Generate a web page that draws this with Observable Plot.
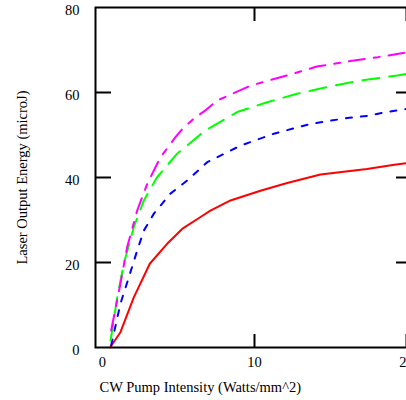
<!DOCTYPE html>
<html><head><meta charset="utf-8">
<script src="https://cdn.jsdelivr.net/npm/d3@7"></script>
<script src="https://cdn.jsdelivr.net/npm/@observablehq/plot@0.6"></script>
<style>html,body{margin:0;padding:0;overflow:hidden;background:#fff}
#chart svg{max-width:none !important;font-family:"Liberation Serif","Times New Roman",serif !important;}
</style>
</head><body><div id="chart"></div>
<script>
const xTitle = "CW Pump Intensity (Watts/mm^2)";
const yTitle = "Laser Output Energy (microJ)";
const xTickLabels = [0, 10, 20];
const xTickMarks = [10, 20];
const yTickLabels = [0, 20, 40, 60, 80];
const yTickMarks = [20, 40, 60];

const redX = [0.5, 1.18, 2.06, 3.11, 4.25, 5.24, 6.45, 7.1, 8.42, 10.39, 12.15, 14.34, 17.4, 19.2, 20.3];
const redY = [0, 3.6, 11.8, 19.7, 24.4, 27.9, 30.7, 32.2, 34.6, 36.9, 38.7, 40.7, 42.0, 43.0, 43.5];
const blueX = [0.57, 1.18, 1.73, 2.28, 2.72, 3.38, 4.47, 5.57, 6.89, 9.08, 11.27, 13.68, 16.1, 17.4, 18.7, 20.3];
const blueY = [0.5, 10.3, 16.5, 22.8, 27.5, 31.5, 36.2, 39.3, 43.6, 47.5, 50.3, 52.6, 54.0, 54.5, 55.4, 56.3];
const greenX = [0.53, 0.97, 1.4, 2.06, 2.72, 3.6, 4.91, 6.78, 8.86, 10.83, 12.8, 14.78, 16.75, 19.4, 20.3];
const greenY = [1.6, 11.8, 19.7, 28.3, 34.6, 40.1, 45.6, 51.1, 55.4, 57.7, 59.7, 61.3, 62.7, 64.0, 64.6];
const magentaX = [0.57, 1.18, 1.62, 2.28, 2.94, 3.82, 4.8, 5.35, 6.12, 6.78, 7.54, 9.74, 12.6, 14.1, 16.3, 18.1, 20.3];
const magentaY = [4.0, 15.0, 23.6, 32.2, 38.5, 44.8, 49.5, 51.8, 54.2, 55.8, 58.1, 61.6, 64.5, 66.1, 67.4, 68.3, 69.6];

const toRows = (xs, ys) => xs.map((x, i) => ({x, y: ys[i]}));
const series = [
  {rows: toRows(redX, redY), stroke: "#ff0000", dash: null},
  {rows: toRows(blueX, blueY), stroke: "#0000ff", dash: "6,9"},
  {rows: toRows(greenX, greenY), stroke: "#00ff00", dash: "17,10"},
  {rows: toRows(magentaX, magentaY), stroke: "#ff00ff", dash: "16,9,6,9"}
];

const ff = "'Liberation Serif', 'Times New Roman', serif";
const fs = 14.5;

const chart = Plot.plot({
  width: 416,
  height: 400,
  marginLeft: 95,
  marginRight: 5,
  marginTop: 7,
  marginBottom: 53,
  style: {fontFamily: ff, fontSize: fs + "px", color: "#000", background: "#fff", maxWidth: "none"},
  x: {domain: [-0.4605, 20.33]},
  y: {domain: [0, 80]},
  marks: [
    ...series.map(s => Plot.line(s.rows, {x: "x", y: "y", stroke: s.stroke, strokeWidth: 2, strokeDasharray: s.dash})),
    Plot.frame({stroke: "#000", strokeWidth: 2}),
    Plot.axisY(yTickLabels, {anchor: "left", tickSize: 0, tickPadding: 16, dy: 2.5, label: null, fontFamily: ff, fontSize: fs}),
    Plot.axisY(yTickMarks, {anchor: "left", tickSize: 16, dx: 16, strokeWidth: 2, text: null, label: null}),
    Plot.axisY(yTickMarks, {anchor: "right", tickSize: 16, dx: -16, strokeWidth: 2, text: null, label: null}),
    Plot.axisX(xTickLabels, {anchor: "bottom", tickSize: 0, tickPadding: 9, label: null, fontFamily: ff, fontSize: fs}),
    Plot.axisX(xTickMarks, {anchor: "bottom", tickSize: 13, dy: -13, strokeWidth: 2, text: null, label: null}),
    Plot.axisX(xTickMarks, {anchor: "top", tickSize: 13, dy: 13, strokeWidth: 2, text: null, label: null}),
    Plot.text([xTitle], {frameAnchor: "bottom-left", textAnchor: "start", dx: 4, dy: 44, fontFamily: ff, fontSize: fs}),
    Plot.text([yTitle], {frameAnchor: "left", textAnchor: "middle", rotate: -90, dx: -73, fontFamily: ff, fontSize: fs})
  ]
});
document.getElementById("chart").appendChild(chart);
</script>
</body></html>
